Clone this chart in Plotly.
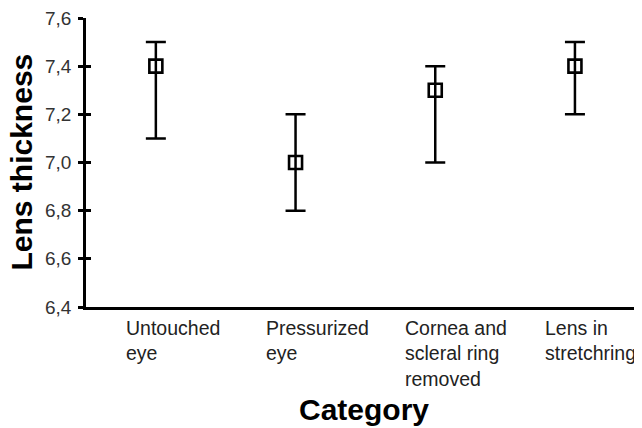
import plotly.graph_objects as go

categories = ["Untouched eye", "Pressurized eye", "Cornea and scleral ring removed", "Lens in stretchring"]
category_labels = ["Untouched<br>eye", "Pressurized<br>eye", "Cornea and<br>scleral ring<br>removed", "Lens in<br>stretchring"]
means = [7.4, 7.0, 7.3, 7.4]
upper = [7.5, 7.2, 7.4, 7.5]
lower = [7.1, 6.8, 7.0, 7.2]
y_ticks = [6.4, 6.6, 6.8, 7.0, 7.2, 7.4, 7.6]

err_plus = [u - m for u, m in zip(upper, means)]
err_minus = [m - l for m, l in zip(means, lower)]

FONT = "Arial, Liberation Sans, sans-serif"

fig = go.Figure()
fig.add_trace(go.Scatter(
    x=categories, y=means, mode="markers",
    marker=dict(symbol="square-open", size=13, color="black", line=dict(width=2.6, color="black")),
    error_y=dict(type="data", symmetric=False, array=err_plus, arrayminus=err_minus,
                 color="black", thickness=2.5, width=10),
    showlegend=False, hoverinfo="skip",
))
# invisible trace on the overlay axis so ticks also cross inside the axis line
fig.add_trace(go.Scatter(x=categories, y=means, yaxis="y2", mode="markers",
                         marker=dict(opacity=0), showlegend=False, hoverinfo="skip"))

annotations = []
for cat, lab in zip(categories, category_labels):
    annotations.append(dict(
        x=cat, xref="x", y=0, yref="paper", text=lab, showarrow=False,
        xanchor="left", yanchor="top", align="left", xshift=-32, yshift=-8,
        font=dict(family=FONT, size=19.5, color="#222222"),
    ))
annotations.append(dict(
    x=0.5, xref="paper", y=0, yref="paper", text="<b>Category</b>", showarrow=False,
    xanchor="center", yanchor="top", yshift=-84,
    font=dict(family=FONT, size=30, color="black"),
))
annotations.append(dict(
    x=0, xref="paper", y=0.5, yref="paper", text="<b>Lens thickness</b>", showarrow=False,
    xanchor="center", yanchor="middle", xshift=-65, textangle=-90,
    font=dict(family=FONT, size=30, color="black"),
))

# page body has an 8px default margin, so the figure is sized to end at the window edge
fig.update_layout(
    width=634, height=420,
    margin=dict(l=78, r=0, t=10, b=121),
    paper_bgcolor="white", plot_bgcolor="white",
    separators=",.",
    xaxis=dict(
        range=[-0.5, 3.48], showticklabels=False, ticks="",
        showline=True, linecolor="black", linewidth=3, showgrid=False, zeroline=False,
    ),
    yaxis=dict(
        range=[6.4, 7.6], tickvals=y_ticks, tickformat=".1f",
        ticks="outside", ticklen=5, tickwidth=2.5, tickcolor="black",
        ticklabelstandoff=3, ticklabeloverflow="allow",
        showline=True, linecolor="black", linewidth=2.5, showgrid=False, zeroline=False,
        tickfont=dict(family=FONT, size=19, color="#333333"),
    ),
    yaxis2=dict(
        range=[6.4, 7.6], tickvals=y_ticks, overlaying="y", side="left",
        ticks="inside", ticklen=5, tickwidth=2.5, tickcolor="black",
        showticklabels=False, showgrid=False, zeroline=False, showline=False,
    ),
    annotations=annotations,
)

fig.write_html("out.html")
